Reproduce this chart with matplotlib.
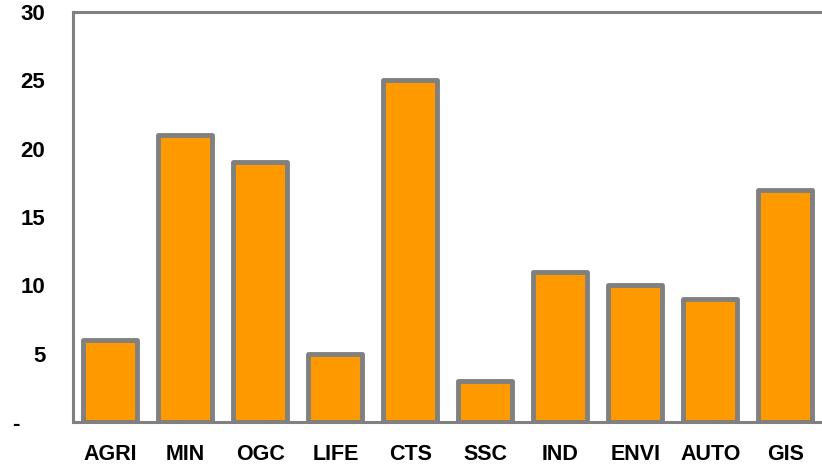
import matplotlib.pyplot as plt
import numpy as np

sectors = ["AGRI", "MIN", "OGC", "LIFE", "CTS", "SSC", "IND", "ENVI", "AUTO", "GIS"]
counts = [6, 21, 19, 5, 25, 3, 11, 10, 9, 17]
yticks = [0, 5, 10, 15, 20, 25, 30]
ytick_labels = ["-\u00a0\u00a0\u00a0\u00a0", "5", "10", "15", "20", "25", "30"]

plt.rcParams["font.family"] = ["Liberation Sans", "DejaVu Sans"]

fig = plt.figure(figsize=(8.22, 4.66), dpi=100)
ax = fig.add_axes([73 / 822, 44 / 466, 1 - 73 / 822, (422 - 12) / 466])

x = np.arange(len(sectors))
ax.bar(x, counts, width=0.72, color="#FF9900", edgecolor="#808080",
       linewidth=3.5, joinstyle="round", zorder=3)

ax.set_xlim(-0.5, 9.49)
ax.set_ylim(0, 30)
ax.set_xticks(x)
ax.set_xticklabels(sectors, fontsize=15.5, fontweight="bold")
ax.set_yticks(yticks)
ax.set_yticklabels(ytick_labels, fontsize=16, fontweight="bold")
ax.tick_params(axis="x", length=0, pad=16)
ax.tick_params(axis="y", length=0, pad=20)

for side in ["left", "bottom", "top"]:
    ax.spines[side].set_color("#808080")
    ax.spines[side].set_linewidth(2.2)
ax.spines["right"].set_visible(False)

fig.savefig("out.png", dpi=100)
